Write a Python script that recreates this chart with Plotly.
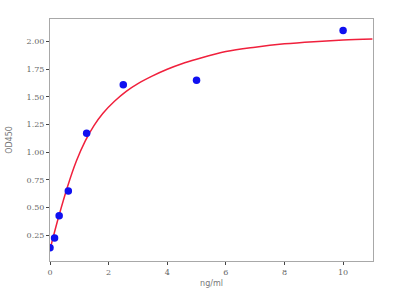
import plotly.graph_objects as go

# measured standards
conc = [0.0, 0.156, 0.3125, 0.625, 1.25, 2.5, 5.0, 10.0]
od = [0.135, 0.223, 0.425, 0.648, 1.17, 1.61, 1.65, 2.10]

# fitted curve
curve_x = [0, 0.3, 0.6, 0.9, 1.2, 1.5, 1.8, 2.2, 2.6, 3.0, 3.5, 4.0, 4.5, 5.0, 6.0, 7.0, 8.0, 9.0, 10.0, 11.0]
curve_y = [0.12, 0.42, 0.69, 0.92, 1.10, 1.24, 1.35, 1.46, 1.55, 1.62, 1.69, 1.75, 1.80, 1.84, 1.91, 1.95, 1.98, 2.00, 2.015, 2.025]

x_ticks = [0, 2, 4, 6, 8, 10]
y_ticks = [0.25, 0.5, 0.75, 1.0, 1.25, 1.5, 1.75, 2.0]

fig = go.Figure()
fig.add_trace(go.Scatter(x=curve_x, y=curve_y, mode="lines",
                         line=dict(color="#f0203c", width=1.5, shape="spline"),
                         hoverinfo="skip"))
fig.add_trace(go.Scatter(x=conc, y=od, mode="markers",
                         marker=dict(color="#1010f0", size=7.5)))

axis_common = dict(showgrid=False, zeroline=False, showline=True, mirror=True,
                   linecolor="#a8a8a8", linewidth=1, ticks="outside", ticklen=3,
                   tickcolor="#444", tickfont=dict(family="DejaVu Serif", size=8, color="#666"),
                   automargin=False)

fig.update_layout(
    width=408, height=307,
    margin=dict(l=50, r=35, t=19, b=46),
    paper_bgcolor="white", plot_bgcolor="white",
    showlegend=False,
    xaxis=dict(range=[0, 11.02], tickvals=x_ticks, ticktext=[str(v) for v in x_ticks],
               title=dict(text="ng/ml", font=dict(family="DejaVu Sans", size=8, color="#777"), standoff=4),
               **axis_common),
    yaxis=dict(range=[0.015, 2.205], tickvals=y_ticks, ticktext=[f"{v:.2f}" for v in y_ticks],
               title=dict(text="OD450", font=dict(family="DejaVu Sans", size=8, color="#777"), standoff=12),
               **axis_common),
)

fig.write_html("out.html")
